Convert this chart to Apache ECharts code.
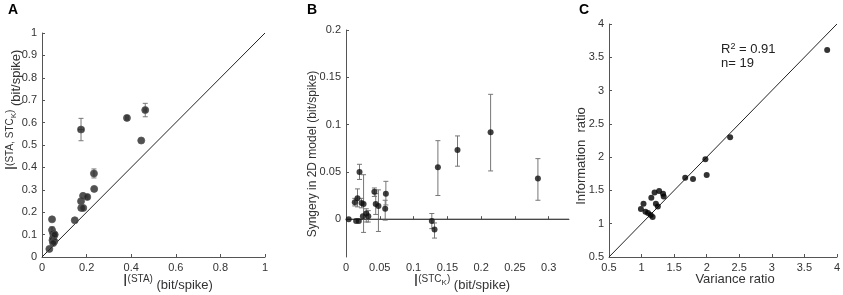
<!DOCTYPE html>
<html>
<head>
<meta charset="utf-8">
<script src="https://cdn.jsdelivr.net/npm/echarts@6/dist/echarts.min.js"></script>
<style>
html, body { margin: 0; padding: 0; background: #fff; }
#main { width: 843px; height: 295px; }
</style>
</head>
<body>
<div id="main"></div>
<script>
// Panel A: I(STA) vs I(STA, STC_K)
const staInfo   = [0.033, 0.045, 0.045, 0.050, 0.053, 0.050, 0.047, 0.055, 0.050, 0.057, 0.147, 0.175, 0.175, 0.176, 0.185, 0.184, 0.203, 0.233, 0.234, 0.381, 0.445, 0.463];
const jointInfo = [0.036, 0.168, 0.120, 0.105, 0.095, 0.085, 0.075, 0.070, 0.062, 0.100, 0.164, 0.569, 0.249, 0.219, 0.219, 0.273, 0.268, 0.373, 0.304, 0.621, 0.520, 0.656];
const jointErr  = [0, 0, 0.015, 0, 0, 0, 0, 0, 0, 0, 0, 0.05, 0, 0, 0, 0, 0.01, 0.02, 0, 0.01, 0, 0.03];
const staErr    = [0, 0, 0, 0, 0, 0, 0, 0, 0, 0, 0, 0.012, 0, 0, 0, 0, 0.008, 0, 0, 0.006, 0, 0.006];

// Panel B: I(STC_K) vs synergy
const stcInfo   = [0.004, 0.013, 0.017, 0.020, 0.015, 0.019, 0.023, 0.026, 0.025, 0.030, 0.033, 0.042, 0.044, 0.048, 0.059, 0.058, 0.127, 0.131, 0.136, 0.165, 0.214, 0.284];
const synergy   = [0, 0.018, 0.022, 0.050, -0.002, -0.002, 0.017, 0.016, 0.003, 0.006, 0.003, 0.029, 0.016, 0.014, 0.027, 0.011, -0.002, -0.011, 0.055, 0.073, 0.092, 0.043];
const synergyLo = [0, 0.014, 0.013, 0.042, -0.002, -0.002, 0.012, -0.014, 0.003, -0.003, -0.003, 0.024, 0.005, -0.013, 0.015, -0.001, -0.010, -0.020, 0.025, 0.056, 0.051, 0.020];
const synergyHi = [0, 0.022, 0.032, 0.058, -0.002, -0.002, 0.022, 0.047, 0.003, 0.011, 0.009, 0.033, 0.027, 0.031, 0.040, 0.020, 0.006, -0.004, 0.083, 0.088, 0.132, 0.064];

// Panel C: variance ratio vs information ratio
const varianceRatio = [0.99, 1.03, 1.06, 1.10, 1.14, 1.17, 1.15, 1.20, 1.27, 1.33, 1.34, 1.22, 1.25, 1.67, 1.79, 1.98, 2.00, 2.36, 3.85];
const infoRatio     = [1.22, 1.30, 1.18, 1.16, 1.13, 1.10, 1.39, 1.47, 1.49, 1.45, 1.41, 1.30, 1.26, 1.69, 1.67, 1.97, 1.73, 2.30, 3.61];

// reference lines
const identityA = [[0, 0], [1, 1]];
const zeroLineB = [[0, 0], [0.33, 0]];
const identityC = [[0.5, 0.5], [4, 4]];

// tick values
const ticksBx = [0, 0.05, 0.1, 0.15, 0.2, 0.25, 0.3];
const ticksBy = [0, 0.05, 0.1, 0.15, 0.2];

const FONT = 'Liberation Sans';
const AXIS_COLOR = '#555';

function axisBase() {
    return {
        axisLine: { lineStyle: { color: AXIS_COLOR, width: 1 } },
        axisTick: { inside: true, length: 3, lineStyle: { color: AXIS_COLOR } },
        axisLabel: { color: '#333', fontSize: 11, fontFamily: FONT, margin: 5 },
        splitLine: { show: false }
    };
}

// error bars: [x, y, xlo, xhi, ylo, yhi]
function errorBars(params, api) {
    const cap = 2.5;
    const c = api.coord([api.value(0), api.value(1)]);
    const lo = api.coord([api.value(0), api.value(4)]);
    const hi = api.coord([api.value(0), api.value(5)]);
    const left = api.coord([api.value(2), api.value(1)]);
    const right = api.coord([api.value(3), api.value(1)]);
    const style = { stroke: '#777', lineWidth: 1 };
    const kids = [];
    if (Math.abs(lo[1] - hi[1]) > 0.5) {
        kids.push({ type: 'line', shape: { x1: c[0], y1: lo[1], x2: c[0], y2: hi[1] }, style: style });
        kids.push({ type: 'line', shape: { x1: c[0] - cap, y1: lo[1], x2: c[0] + cap, y2: lo[1] }, style: style });
        kids.push({ type: 'line', shape: { x1: c[0] - cap, y1: hi[1], x2: c[0] + cap, y2: hi[1] }, style: style });
    }
    if (Math.abs(right[0] - left[0]) > 0.5) {
        kids.push({ type: 'line', shape: { x1: left[0], y1: c[1], x2: right[0], y2: c[1] }, style: style });
        kids.push({ type: 'line', shape: { x1: left[0], y1: c[1] - cap, x2: left[0], y2: c[1] + cap }, style: style });
        kids.push({ type: 'line', shape: { x1: right[0], y1: c[1] - cap, x2: right[0], y2: c[1] + cap }, style: style });
    }
    return { type: 'group', children: kids };
}

const errA = staInfo.map((x, i) => [x, jointInfo[i], x - staErr[i], x + staErr[i], jointInfo[i] - jointErr[i], jointInfo[i] + jointErr[i]]);
const errB = stcInfo.map((x, i) => [x, synergy[i], x, x, synergyLo[i], synergyHi[i]]);

// rich styles: big I, superscript, subscript K, normal units
const richBase = {
    i: { fontSize: 16, fontFamily: FONT, color: '#333', lineHeight: 16, verticalAlign: 'bottom', padding: [3, 0, 0, 0] },
    s: { fontSize: 10, fontFamily: FONT, color: '#333', lineHeight: 10, verticalAlign: 'top' },
    k: { fontSize: 8, fontFamily: FONT, color: '#333', lineHeight: 8, verticalAlign: 'top', padding: [5, 0, 0, 0] },
    n: { fontSize: 13, fontFamily: FONT, color: '#333', lineHeight: 14, verticalAlign: 'bottom', padding: [0, 0, -2, 0] }
};

function title(x, y, text, rotate) {
    return {
        type: 'text', x: x, y: y, rotation: rotate ? Math.PI / 2 : 0,
        style: { text: text, rich: richBase, align: 'center', verticalAlign: 'middle', fill: '#333', font: '13px ' + FONT }
    };
}

const chart = echarts.init(document.getElementById('main'));
chart.setOption({
    animation: false,
    grid: [
        { left: 42, top: 33, width: 223, height: 224 },
        { left: 346, top: 30, width: 223, height: 227 },
        { left: 609, top: 24, width: 231, height: 233 }
    ],
    xAxis: [
        Object.assign(axisBase(), { gridIndex: 0, type: 'value', min: 0, max: 1, interval: 0.2 }),
        Object.assign(axisBase(), {
            gridIndex: 1, type: 'value', min: 0, max: 0.33,
            axisLabel: { color: '#333', fontSize: 11, fontFamily: FONT, margin: 5, customValues: ticksBx },
            axisTick: { inside: true, length: 3, lineStyle: { color: AXIS_COLOR }, customValues: ticksBx }
        }),
        Object.assign(axisBase(), { gridIndex: 2, type: 'value', min: 0.5, max: 4, interval: 0.5 })
    ],
    yAxis: [
        Object.assign(axisBase(), { gridIndex: 0, type: 'value', min: 0, max: 1, interval: 0.1 }),
        Object.assign(axisBase(), {
            gridIndex: 1, type: 'value', min: -0.04, max: 0.2,
            axisLabel: { color: '#333', fontSize: 11, fontFamily: FONT, margin: 5, customValues: ticksBy },
            axisTick: { inside: true, length: 3, lineStyle: { color: AXIS_COLOR }, customValues: ticksBy }
        }),
        Object.assign(axisBase(), { gridIndex: 2, type: 'value', min: 0.5, max: 4, interval: 0.5 })
    ],
    series: [
        { type: 'line', xAxisIndex: 0, yAxisIndex: 0, data: identityA, symbol: 'none', lineStyle: { color: '#222', width: 1 }, silent: true },
        { type: 'custom', xAxisIndex: 0, yAxisIndex: 0, data: errA, renderItem: errorBars, z: 3 },
        {
            type: 'scatter', xAxisIndex: 0, yAxisIndex: 0, symbolSize: 7, z: 4,
            itemStyle: { color: '#262626', borderColor: '#555', borderWidth: 1 },
            data: staInfo.map((x, i) => [x, jointInfo[i]])
        },
        { type: 'line', xAxisIndex: 1, yAxisIndex: 1, data: zeroLineB, symbol: 'none', lineStyle: { color: '#444', width: 1 }, silent: true },
        { type: 'custom', xAxisIndex: 1, yAxisIndex: 1, data: errB, renderItem: errorBars, z: 3 },
        {
            type: 'scatter', xAxisIndex: 1, yAxisIndex: 1, symbolSize: 6, z: 4,
            itemStyle: { color: '#111' },
            data: stcInfo.map((x, i) => [x, synergy[i]])
        },
        { type: 'line', xAxisIndex: 2, yAxisIndex: 2, data: identityC, symbol: 'none', lineStyle: { color: '#222', width: 1 }, silent: true },
        {
            type: 'scatter', xAxisIndex: 2, yAxisIndex: 2, symbolSize: 6, z: 4,
            itemStyle: { color: '#000' },
            data: varianceRatio.map((x, i) => [x, infoRatio[i]])
        }
    ],
    graphic: [
        { type: 'text', left: 8, top: 3, style: { text: 'A', font: 'bold 14px ' + FONT, fill: '#000' } },
        { type: 'text', left: 307, top: 3, style: { text: 'B', font: 'bold 14px ' + FONT, fill: '#000' } },
        { type: 'text', left: 579, top: 3, style: { text: 'C', font: 'bold 14px ' + FONT, fill: '#000' } },
        title(168, 282, '{i|I}{s|(STA)}{n| (bit/spike)}', false),
        title(13, 110, '{i|I}{s|(STA, STC}{k|K}{s|)}{n| (bit/spike)}', true),
        title(462, 282, '{i|I}{s|(STC}{k|K}{s|)}{n| (bit/spike)}', false),
        {
            type: 'text', x: 313, y: 154, rotation: Math.PI / 2,
            style: { text: 'Syngery in 2D model (bit/spike)', align: 'center', verticalAlign: 'middle', fill: '#333', font: '12px ' + FONT }
        },
        {
            type: 'text', x: 735, y: 279,
            style: { text: 'Variance ratio', align: 'center', verticalAlign: 'middle', fill: '#333', font: '13px ' + FONT }
        },
        {
            type: 'text', x: 581, y: 156, rotation: Math.PI / 2,
            style: { text: 'Information  ratio', align: 'center', verticalAlign: 'middle', fill: '#333', font: '13px ' + FONT }
        },
        {
            type: 'text', left: 721, top: 42,
            style: {
                text: '{a|R}{b|2}{a| = 0.91}\n{a|n= 19}', fill: '#222',
                rich: {
                    a: { fontSize: 13, fontFamily: FONT, color: '#222', lineHeight: 14, verticalAlign: 'bottom' },
                    b: { fontSize: 9, fontFamily: FONT, color: '#222', lineHeight: 14, verticalAlign: 'top' }
                }
            }
        }
    ]
});
</script>
</body>
</html>
